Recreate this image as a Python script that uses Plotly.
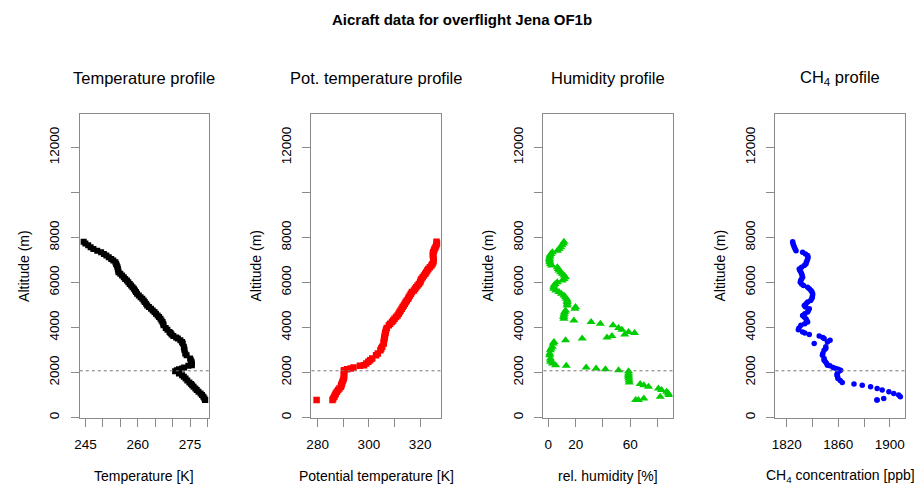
import plotly.graph_objects as go

# ---------------- data ----------------
altitude = [7817, 7740, 7660, 7567, 7490, 7419, 7346, 7270, 7200, 7125,
            7051, 6980, 6905, 6830, 6756, 6682, 6609, 6535, 6462, 6387,
            6310, 6240, 6160, 6091, 6019, 5940, 5869, 5796, 5723, 5650,
            5576, 5502, 5428, 5350, 5280, 5206, 5133, 5060, 4985, 4913,
            4838, 4762, 4690, 4616, 4541, 4470, 4395, 4320, 4247, 4174,
            4099, 3984, 3908, 3805, 3760, 3687, 3628, 3554, 3510, 3436,
            3364, 3290, 3143, 3068, 2992, 2846, 2771, 2625, 2550, 2479,
            2400, 2328, 2302, 2226, 2180, 2151, 2107, 2063, 1960, 1886,
            1815, 1740, 1650, 1560, 1487, 1440, 1372, 1297, 1230, 1151,
            1075, 1000, 925, 850, 780, 780]

temperature = [244.5, 245.0, 245.8, 246.5, 247.3, 248.4, 249.5, 250.3, 251.0, 251.7,
               252.4, 253.0, 253.6, 253.8, 254.0, 254.2, 254.3, 254.4, 254.5, 255.0,
               255.5, 256.0, 256.4, 256.9, 257.3, 257.7, 258.1, 258.5, 258.9, 259.2,
               259.5, 259.8, 260.3, 260.8, 261.3, 261.7, 262.0, 262.4, 262.7, 263.2,
               263.8, 264.3, 264.8, 265.2, 265.7, 266.1, 266.5, 266.8, 267.1, 267.3,
               267.4, 268.0, 268.5, 269.1, 269.4, 269.7, 270.2, 271.0, 271.5, 272.2,
               272.7, 272.9, 273.2, 273.3, 273.4, 273.6, 274.0, 275.0, 275.2, 275.4,
               275.5, 275.5, 274.5, 273.3, 272.7, 271.8, 271.2, 270.7, 271.8, 272.7,
               273.2, 273.7, 274.2, 274.8, 275.3, 275.6, 276.0, 276.5, 276.9, 277.4,
               278.0, 278.4, 278.8, 279.1, 279.3, 279.3]

pot_temperature = [326.4, 326.6, 326.3, 326.0, 325.6, 325.4, 325.1, 325.0, 325.0, 325.1,
                   325.2, 325.2, 325.1, 324.8, 324.4, 323.8, 323.2, 322.8, 322.4, 322.0,
                   321.5, 321.0, 320.5, 320.2, 320.0, 319.5, 319.0, 318.5, 318.0, 317.6,
                   316.8, 316.4, 316.0, 315.6, 315.3, 314.8, 314.4, 314.0, 313.6, 313.2,
                   312.8, 312.4, 312.0, 311.6, 311.2, 310.6, 310.0, 309.5, 309.0, 308.3,
                   307.8, 307.0, 306.7, 306.5, 306.4, 306.3, 306.2, 306.1, 306.0, 305.9,
                   305.8, 305.8, 305.2, 304.8, 304.5, 303.5, 302.8, 301.3, 300.5, 299.8,
                   299.0, 298.1, 296.5, 294.0, 292.9, 291.5, 290.3, 290.3, 290.3, 290.3,
                   290.3, 290.2, 289.9, 289.6, 289.4, 289.2, 289.1, 288.5, 288.0, 287.5,
                   287.1, 286.8, 286.5, 286.1, 285.8, 279.6]

humidity = [11.4, 11.0, 10.0, 9.0, 7.8, 6.6, 2.9, 1.8, 1.2, 1.0,
            0.8, 0.9, 1.0, 1.6, 2.4, 6.6, 7.2, 7.8, 9.0, 10.2,
            11.5, 12.6, 11.5, 10.2, 6.6, 5.0, 4.1, 4.0, 4.1, 5.5,
            7.8, 9.5, 11.4, 12.5, 13.3, 13.8, 13.8, 13.8, 13.8, 19.9,
            19.5, 12.6, 12.0, 11.6, 11.4, 11.2, 11.4, 18.7, 31.3, 38.1,
            47.4, 51.5, 53.9, 58.8, 63.2, 56.0, 46.6, 43.0, 24.8, 12.6,
            4.1, 3.5, 2.9, 2.0, 1.5, 1.0, 1.0, 1.5, 1.7, 1.7,
            3.0, 5.3, 13.1, 27.7, 35.0, 41.8, 51.5, 58.8, 58.8, 58.8,
            58.8, 59.0, 59.2, 59.3, 67.3, 70.0, 73.4, 80.7, 83.0, 86.7,
            87.9, 88.5, 82.0, 70.0, 66.0, 64.0]

ch4 = [1824.6, 1824.8, 1825.3, 1825.9, 1826.5, 1827.2, 1832.3, 1834.5, 1836.2, 1836.5,
       1836.2, 1835.8, 1835.2, 1834.9, 1833.6, 1831.5, 1829.7, 1830.2, 1831.0, 1831.5,
       1832.0, 1832.3, 1831.5, 1830.8, 1830.5, 1831.5, 1833.0, 1836.2, 1837.5, 1838.8,
       1839.6, 1840.1, 1840.0, 1839.8, 1839.4, 1838.5, 1836.2, 1835.0, 1833.6, 1834.5,
       1837.5, 1836.8, 1836.2, 1834.0, 1832.3, 1833.5, 1834.9, 1835.5, 1836.2, 1834.0,
       1831.0, 1829.5, 1829.0, 1832.3, 1834.0, 1837.5, 1845.2, 1848.0, 1849.0, 1853.6,
       1851.6, 1841.3, 1850.3, 1850.3, 1849.0, 1848.0, 1847.7, 1849.0, 1849.0, 1850.0,
       1851.0, 1851.6, 1853.5, 1856.0, 1858.0, 1860.0, 1861.8, 1860.5, 1859.2, 1859.0,
       1859.5, 1859.7, 1861.5, 1863.1, 1872.2, 1878.6, 1885.1, 1890.2, 1894.1, 1899.3,
       1903.1, 1906.9, 1908.2, 1895.3, 1890.2, 1890.0]

boundary_layer_height = 2080

panel_titles = ["Temperature profile", "Pot. temperature profile",
                "Humidity profile", "CH<sub>4</sub> profile"]
x_titles = ["Temperature [K]", "Potential temperature [K]",
            "rel. humidity [%]", "CH<sub>4</sub> concentration [ppb]"]
y_title = "Altitude (m)"
main_title = "<b>Aicraft data for overflight Jena OF1b</b>"

x_tickvals = [[245, 250, 255, 260, 265, 270, 275, 280],
              [280, 290, 300, 310, 320],
              [0, 20, 40, 60, 80],
              [1820, 1840, 1860, 1880, 1900]]
x_ticktext = [["245", " ", " ", "260", " ", " ", "275", " "],
              ["280", " ", "300", " ", "320"],
              ["0", "20", " ", "60", " "],
              ["1820", " ", "1860", " ", "1900"]]
x_ranges = [[243.4, 280.4], [277.6, 328.0], [-3.6, 91.1], [1811.2, 1911.5]]
y_tickvals = [0, 2000, 4000, 6000, 8000, 10000, 12000]
y_ticktext = ["0", "2000", "4000", "6000", "8000", " ", "12000"]
y_range = [0, 13500]

series = [temperature, pot_temperature, humidity, ch4]
colors = ["#000000", "#FF0000", "#00CD00", "#0000FF"]
symbols = ["square", "square", "triangle-up", "circle"]
sizes = [6, 6.5, 8, 5.5]

# ---------------- layout geometry (pixels) ----------------
W, H = 917, 488
box_left = [74.3, 307.5, 541.0, 774.5]
box_w = 130.0
box_top, box_bottom = 114.3, 419.3
FONT = "Liberation Sans, Arial, Helvetica, sans-serif"
AX = "#8a8a8a"

def px(xp):
    return xp / W

def py(yp):
    return 1 - yp / H

fig = go.Figure()
layout = dict(
    width=W, height=H, margin=dict(l=0, r=0, t=0, b=0),
    paper_bgcolor="white", plot_bgcolor="white", showlegend=False,
    font=dict(family=FONT, color="black"),
)
annotations = []
shapes = []

for i in range(4):
    n = i + 1
    xa = "x" if n == 1 else f"x{n}"
    ya = "y" if n == 1 else f"y{n}"
    fig.add_trace(go.Scatter(
        x=series[i], y=altitude, mode="markers", xaxis=xa, yaxis=ya,
        marker=dict(symbol=symbols[i], size=sizes[i], color=colors[i],
                    line=dict(width=0)),
        hoverinfo="x+y"))
    xkey = "xaxis" if n == 1 else f"xaxis{n}"
    ykey = "yaxis" if n == 1 else f"yaxis{n}"
    layout[xkey] = dict(
        domain=[px(box_left[i]), px(box_left[i] + box_w)], anchor=ya,
        range=x_ranges[i], tickmode="array", tickvals=x_tickvals[i],
        ticktext=x_ticktext[i], ticks="outside", ticklen=8, tickwidth=1,
        tickcolor=AX, showline=True, linecolor=AX, linewidth=1, mirror=True,
        showgrid=False, zeroline=False, tickfont=dict(size=13.5, family=FONT, color="black"),
        ticklabelstandoff=6)
    layout[ykey] = dict(
        domain=[py(box_bottom), py(box_top)], anchor=xa,
        range=y_range, tickmode="array", tickvals=y_tickvals,
        ticktext=y_ticktext, ticks="outside", ticklen=8, tickwidth=1,
        tickcolor=AX, showline=True, linecolor=AX, linewidth=1, mirror=True,
        showgrid=False, zeroline=False, tickangle=-90,
        tickfont=dict(size=13.5, family=FONT, color="black"),
        ticklabelstandoff=6)
    shapes.append(dict(type="line", xref=f"{xa} domain", yref=ya,
                       x0=0, x1=1, y0=boundary_layer_height, y1=boundary_layer_height,
                       line=dict(color="#777777", width=1, dash="dot")))
    cx = box_left[i] + box_w / 2
    annotations.append(dict(text=panel_titles[i], x=px(cx), y=py(78), xref="paper", yref="paper",
                            showarrow=False, xanchor="center", yanchor="middle",
                            font=dict(size=16.5, family=FONT, color="black")))
    annotations.append(dict(text=x_titles[i], x=px(cx), y=py(478), xref="paper", yref="paper",
                            showarrow=False, xanchor="center", yanchor="middle",
                            font=dict(size=14, family=FONT, color="black")))
    annotations.append(dict(text=y_title, x=px(box_left[i] - 56), y=py((box_top + box_bottom) / 2),
                            xref="paper", yref="paper", textangle=-90,
                            showarrow=False, xanchor="center", yanchor="middle",
                            font=dict(size=14, family=FONT, color="black")))

annotations.append(dict(text=main_title, x=0.5, y=py(20), xref="paper", yref="paper",
                        showarrow=False, xanchor="center", yanchor="middle",
                        font=dict(size=15, family=FONT, color="black")))

layout["annotations"] = annotations
layout["shapes"] = shapes
fig.update_layout(**layout)
fig.write_html("out.html",
               config={"displayModeBar": False},
               post_script="document.body.style.margin='0';document.body.style.padding='0';"
                           "document.documentElement.style.overflow='hidden';")
